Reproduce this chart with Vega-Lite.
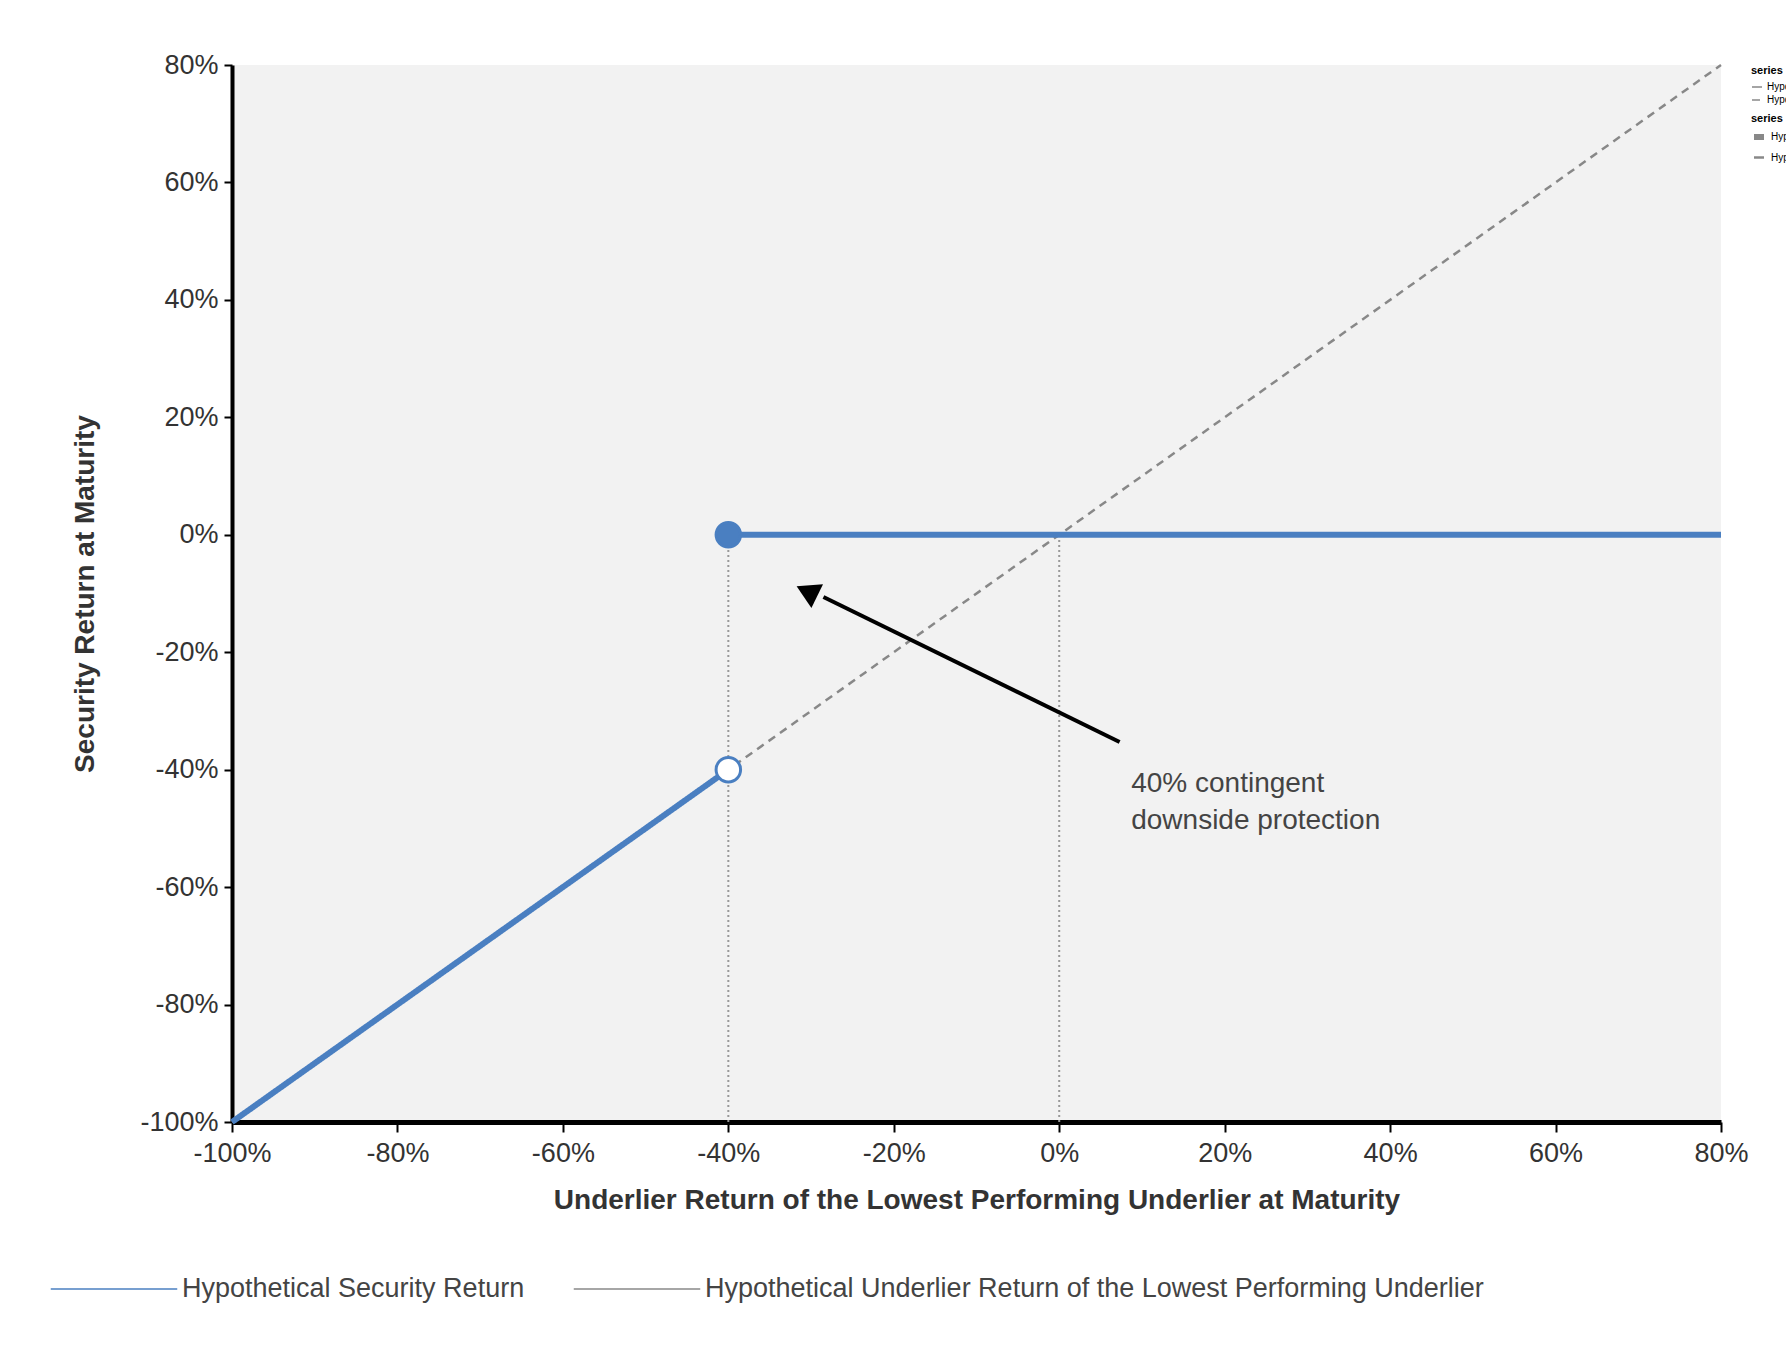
{
  "$schema": "https://vega.github.io/schema/vega-lite/v6.json",
  "width": 1489,
  "height": 1057,
  "autosize": {"type": "none"},
  "padding": {"left": 232, "top": 65, "right": 65, "bottom": 232},
  "background": "white",
  "view": {"fill": "#f2f2f2", "stroke": null},
  "config": {"font": "Liberation Sans"},
  "datasets": {
    "lines": [
      {"series": "Hypothetical Underlier Return of the Lowest Performing Underlier", "seg": "u", "x": -100, "y": -100},
      {"series": "Hypothetical Underlier Return of the Lowest Performing Underlier", "seg": "u", "x": 80, "y": 80},
      {"series": "Hypothetical Security Return", "seg": "a", "x": -100, "y": -100},
      {"series": "Hypothetical Security Return", "seg": "a", "x": -40, "y": -40},
      {"series": "Hypothetical Security Return", "seg": "b", "x": -40, "y": 0},
      {"series": "Hypothetical Security Return", "seg": "b", "x": 80, "y": 0}
    ]
  },
  "encoding": {
    "x": {"type": "quantitative", "scale": {"domain": [-100, 80], "nice": false},
      "axis": {"values": [-100, -80, -60, -40, -20, 0, 20, 40, 60, 80], "labelExpr": "datum.value + '%'", "labelFlush": false, "title": "Underlier Return of the Lowest Performing Underlier at Maturity", "titleFontSize": 28, "titleFontWeight": "bold", "titleColor": "#333", "titlePadding": 20, "labelFontSize": 27, "labelColor": "#333", "labelPadding": 8, "domainColor": "black", "domainWidth": 5, "tickColor": "black", "tickWidth": 2, "tickSize": 10, "grid": false}},
    "y": {"type": "quantitative", "scale": {"domain": [-100, 80], "nice": false},
      "axis": {"values": [-100, -80, -60, -40, -20, 0, 20, 40, 60, 80], "labelExpr": "datum.value + '%'", "labelFlush": false, "title": "Security Return at Maturity", "titleFontSize": 28, "titleFontWeight": "bold", "titleColor": "#333", "titlePadding": 40, "labelFontSize": 27, "labelColor": "#333", "labelPadding": 6, "domainColor": "black", "domainWidth": 4, "tickColor": "black", "tickWidth": 2, "tickSize": 8, "grid": false}}
  },
  "layer": [
    {
      "data": {"values": [{"x": -40, "y": -100, "y2": 0}, {"x": 0, "y": -100, "y2": 0}]},
      "mark": {"type": "rule", "color": "#999", "strokeDash": [2, 3], "strokeWidth": 2},
      "encoding": {"x": {"field": "x"}, "y": {"field": "y"}, "y2": {"field": "y2"}}
    },
    {
      "data": {"name": "lines"},
      "mark": {"type": "line"},
      "encoding": {
        "x": {"field": "x"},
        "y": {"field": "y"},
        "detail": {"field": "seg"},
        "color": {"field": "series", "type": "nominal", "sort": ["Hypothetical Security Return"],
          "scale": {"range": ["#4a7fc1", "#888888"]},
          "legend": {"orient": "none", "direction": "horizontal", "legendX": -182, "legendY": 1160, "title": null, "symbolType": "stroke", "symbolSize": 16000, "labelFontSize": 27, "labelColor": "#444", "columnPadding": 45, "labelLimit": 1000}},
        "strokeDash": {"field": "series", "type": "nominal", "sort": ["Hypothetical Security Return"],
          "scale": {"range": [[1, 0], [8, 6]]}},
        "strokeWidth": {"field": "series", "type": "nominal", "sort": ["Hypothetical Security Return"],
          "scale": {"range": [6, 2.5]}},
        "order": {"field": "series", "sort": "descending"}
      }
    },
    {
      "data": {"values": [{"x": -40, "y": 0, "f": "#4a7fc1"}, {"x": -40, "y": -40, "f": "white"}]},
      "mark": {"type": "point", "filled": true, "size": 600, "stroke": "#4a7fc1", "strokeWidth": 3, "opacity": 1},
      "encoding": {"x": {"field": "x"}, "y": {"field": "y"}, "fill": {"field": "f", "type": "nominal", "scale": null, "legend": null}}
    },
    {
      "data": {"values": [{"x": 7.3, "y": -35.3}, {"x": -28.5, "y": -10.6}]},
      "mark": {"type": "line", "color": "black", "strokeWidth": 4},
      "encoding": {"x": {"field": "x"}, "y": {"field": "y"}}
    },
    {
      "data": {"values": [{"x": -30.5, "y": -9.6}]},
      "mark": {"type": "point", "shape": "triangle-up", "filled": true, "color": "black", "size": 700, "angle": 296, "opacity": 1},
      "encoding": {"x": {"field": "x"}, "y": {"field": "y"}}
    },
    {
      "data": {"values": [{"x": 8.7, "y": -42.5, "t": "40% contingent"}, {"x": 8.7, "y": -48.8, "t": "downside protection"}]},
      "mark": {"type": "text", "align": "left", "baseline": "middle", "fontSize": 28, "color": "#444"},
      "encoding": {"x": {"field": "x"}, "y": {"field": "y"}, "text": {"field": "t"}}
    }
  ]
}
